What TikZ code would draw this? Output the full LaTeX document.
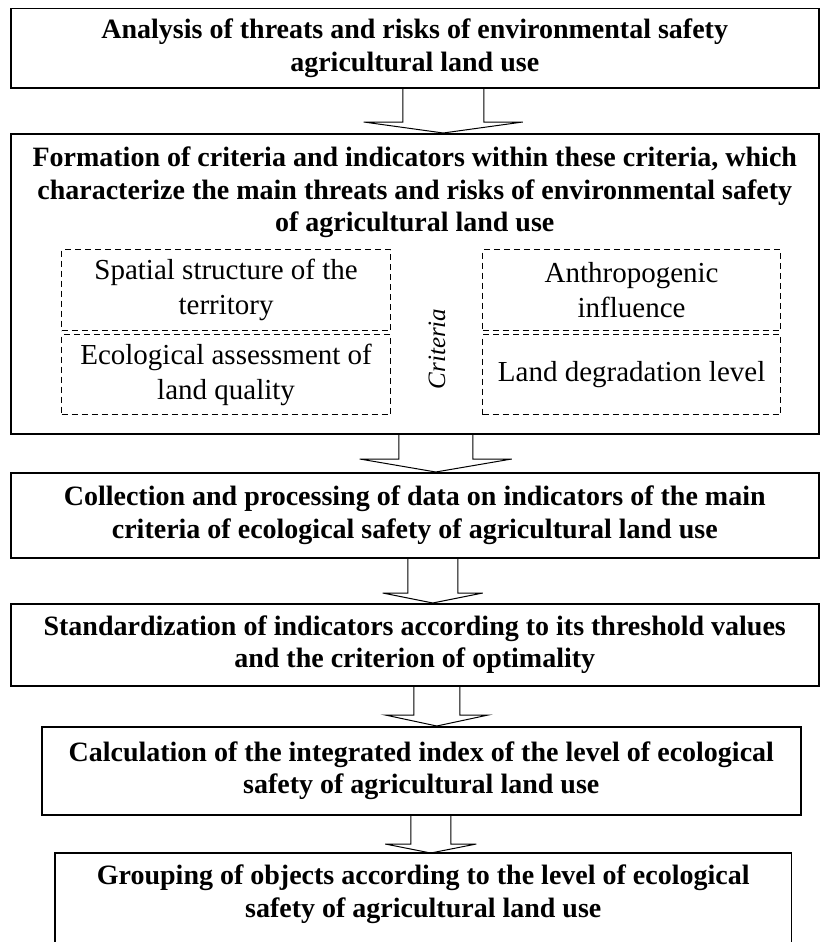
\documentclass[tikz,border=0pt]{standalone}
\usepackage{fontspec}
\setmainfont{Liberation Serif}
\usetikzlibrary{positioning}
\tikzset{
  stage/.style={draw, line width=1.5pt, align=center, inner sep=0pt, anchor=north west,
    font=\bfseries\fontsize{28}{32.5}\selectfont},
  crit/.style={draw, line width=1.2pt, dash pattern=on 6pt off 4pt, align=center, inner sep=0pt,
    anchor=north west, font=\fontsize{29}{35}\selectfont},
  flow/.style={line width=1pt, line join=miter},
}
% block arrow: from, to, x offset, shaft half width, head half width, head height
\newcommand{\blockarrow}[6]{%
  \path ([xshift=#3]#1.south) coordinate (s) (s |- #2.north) coordinate (t);
  \draw[flow] ([xshift=-#4]s) -- ([xshift=-#4,yshift=#6]t) -- ([xshift=-#5,yshift=#6]t) -- (t)
    -- ([xshift=#5,yshift=#6]t) -- ([xshift=#4,yshift=#6]t) -- ([xshift=#4]s);
}
\begin{document}
\begin{tikzpicture}[x=1pt, y=-1pt]
  \useasboundingbox (0,0) rectangle (822,942); % page size
  % stages
  \node[stage, minimum width=808pt, minimum height=79pt] (b1) at (10,8)
    {Analysis of threats and risks of environmental safety\\agricultural land use};
  \node[stage, minimum width=808pt, minimum height=300pt] (b2) at (10,133) {};
  \node[font=\bfseries\fontsize{28}{32.5}\selectfont, align=center, anchor=north, inner sep=0pt]
    (t2) at ([yshift=-14pt]b2.north)
    {Formation of criteria and indicators within these criteria, which\\
     characterize the main threats and risks of environmental safety\\
     of agricultural land use};
  \node[stage, minimum width=808pt, minimum height=85pt] (b3) at (10,472)
    {Collection and processing of data on indicators of the main\\
     criteria of ecological safety of agricultural land use};
  \node[stage, minimum width=808pt, minimum height=82pt] (b4) at (10,603)
    {Standardization of indicators according to its threshold values\\
     and the criterion of optimality};
  \node[stage, minimum width=759pt, minimum height=88pt] (b5) at (41,726)
    {Calculation of the integrated index of the level of ecological\\
     safety of agricultural land use};
  \node[stage, draw=none, minimum width=735pt, minimum height=81pt] (b6) at (55,853)
    {Grouping of objects according to the level of ecological\\
     safety of agricultural land use};
  \draw[line width=1.5pt] ([yshift=-20pt]b6.south west) -- (b6.north west)
    -- (b6.north east) -- ([yshift=-20pt]b6.south east);
  % criteria
  \node[crit, minimum width=329pt, minimum height=81pt] (c1) at (61,249)
    {Spatial structure of the\\territory};
  \node[crit, minimum width=329pt, minimum height=80pt] (c2) at (61,334)
    {Ecological assessment of\\land quality};
  \node[crit, minimum width=298pt, minimum height=81pt] (c3) at (482,249)
    {Anthropogenic\\influence};
  \node[crit, minimum width=298pt, minimum height=80pt] (c4) at (482,334)
    {Land degradation level};
  \node[rotate=90, font=\itshape\fontsize{25}{28}\selectfont] (crt) at (437,349) {Criteria};
  % arrows
  \blockarrow{b1}{b2}{28.5}{40.5}{79.5}{11}
  \blockarrow{b2}{b3}{21}{37}{76}{13}
  \blockarrow{b3}{b4}{18}{25}{50}{10}
  \blockarrow{b4}{b5}{22}{23}{51.5}{11}
  \blockarrow{b5}{b6}{9.5}{20}{45.5}{9}
\end{tikzpicture}
\end{document}
